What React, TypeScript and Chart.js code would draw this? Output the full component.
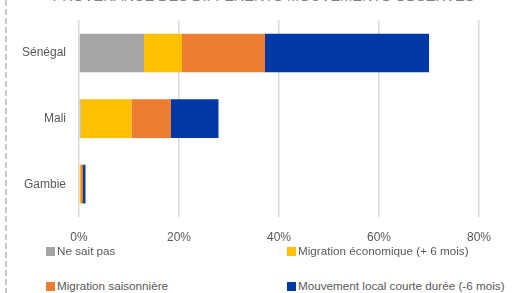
import React, { useEffect, useRef } from "react";
import { Chart, registerables } from "chart.js";

Chart.register(...registerables);

const categories = ["Sénégal", "Mali", "Gambie"];
const seriesNames = [
  "Ne sait pas",
  "Migration économique (+ 6 mois)",
  "Migration saisonnière",
  "Mouvement local courte durée (-6 mois)",
];
const neSaitPas = [13.0, 0.3, 0.0];
const migrationEco = [7.6, 10.2, 0.4];
const migrationSaison = [16.6, 7.9, 0.4];
const mouvementLocal = [32.8, 9.5, 0.5];
const seriesColors = ["#A5A5A5", "#FFC000", "#ED7D31", "#0039A6"];
const xTicks = [0, 20, 40, 60, 80];
const title = "PROVENANCE DES DIFFERENTS MOUVEMENTS OBSERVES";

const FONT = "'Liberation Sans', Arial, sans-serif";
const TEXT = "#595959";

export default function App() {
  const ref = useRef<HTMLCanvasElement | null>(null);
  useEffect(() => {
    if (!ref.current) return;
    const values = [neSaitPas, migrationEco, migrationSaison, mouvementLocal];
    const chart = new Chart(ref.current, {
      type: "bar",
      data: {
        labels: categories,
        datasets: values.map((v, i) => ({
          label: seriesNames[i],
          data: v,
          backgroundColor: seriesColors[i],
          borderWidth: 0,
          categoryPercentage: 1,
          barPercentage: 0.59,
        })),
      },
      options: {
        indexAxis: "y",
        animation: false,
        responsive: false,
        maintainAspectRatio: false,
        layout: { padding: { top: 19, right: 36, left: 0, bottom: 0 } },
        plugins: {
          legend: { display: false },
          tooltip: { enabled: false },
          title: { display: false },
        },
        scales: {
          x: {
            stacked: true,
            min: 0,
            max: 80,
            afterBuildTicks: (s: any) => {
              s.ticks = xTicks.map((v) => ({ value: v }));
            },
            afterFit: (s: any) => {
              s.height = 28;
            },
            grid: { color: "#D9D9D9", lineWidth: 1.5, drawTicks: false },
            border: { display: false },
            ticks: {
              padding: 13,
              color: TEXT,
              font: { family: FONT, size: 12 },
              callback: (v: any) => v + "%",
            },
          },
          y: {
            stacked: true,
            afterFit: (s: any) => {
              s.width = 79;
            },
            grid: { display: false, drawTicks: false },
            border: { display: false },
            ticks: {
              padding: 13,
              color: TEXT,
              font: { family: FONT, size: 12 },
            },
          },
        },
      },
    });
    return () => chart.destroy();
  }, []);

  const legendPos = [
    { left: 46, top: 244 },
    { left: 287, top: 244 },
    { left: 46, top: 279 },
    { left: 287, top: 279 },
  ];

  return (
    <div
      style={{
        position: "fixed",
        left: 0,
        top: 0,
        width: 515,
        height: 293,
        overflow: "hidden",
        background: "#fff",
        fontFamily: FONT,
      }}
    >
      <div
        style={{
          position: "absolute",
          left: 5,
          top: 0,
          width: 2,
          height: 293,
          background:
            "repeating-linear-gradient(to bottom, #C8C8C8 0px, #C8C8C8 6px, transparent 6px, transparent 9px)",
        }}
      />
      <div
        style={{
          position: "absolute",
          left: 0,
          width: 527,
          top: -11,
          textAlign: "center",
          fontSize: 14.5,
          lineHeight: "14.5px",
          color: "#7F7F7F",
          whiteSpace: "nowrap",
        }}
      >
        {title}
      </div>
      <canvas
        ref={ref}
        width={515}
        height={245}
        style={{ position: "absolute", left: 0, top: 0, width: 515, height: 245 }}
      />
      {seriesNames.map((n, i) => (
        <div
          key={n}
          style={{
            position: "absolute",
            left: legendPos[i].left,
            top: legendPos[i].top,
            display: "flex",
            alignItems: "center",
            fontSize: 11.7,
            color: TEXT,
            whiteSpace: "nowrap",
            lineHeight: "14px",
          }}
        >
          <span
            style={{
              display: "inline-block",
              width: 9,
              height: 9,
              background: seriesColors[i],
              marginRight: 2,
            }}
          />
          {n}
        </div>
      ))}
    </div>
  );
}
